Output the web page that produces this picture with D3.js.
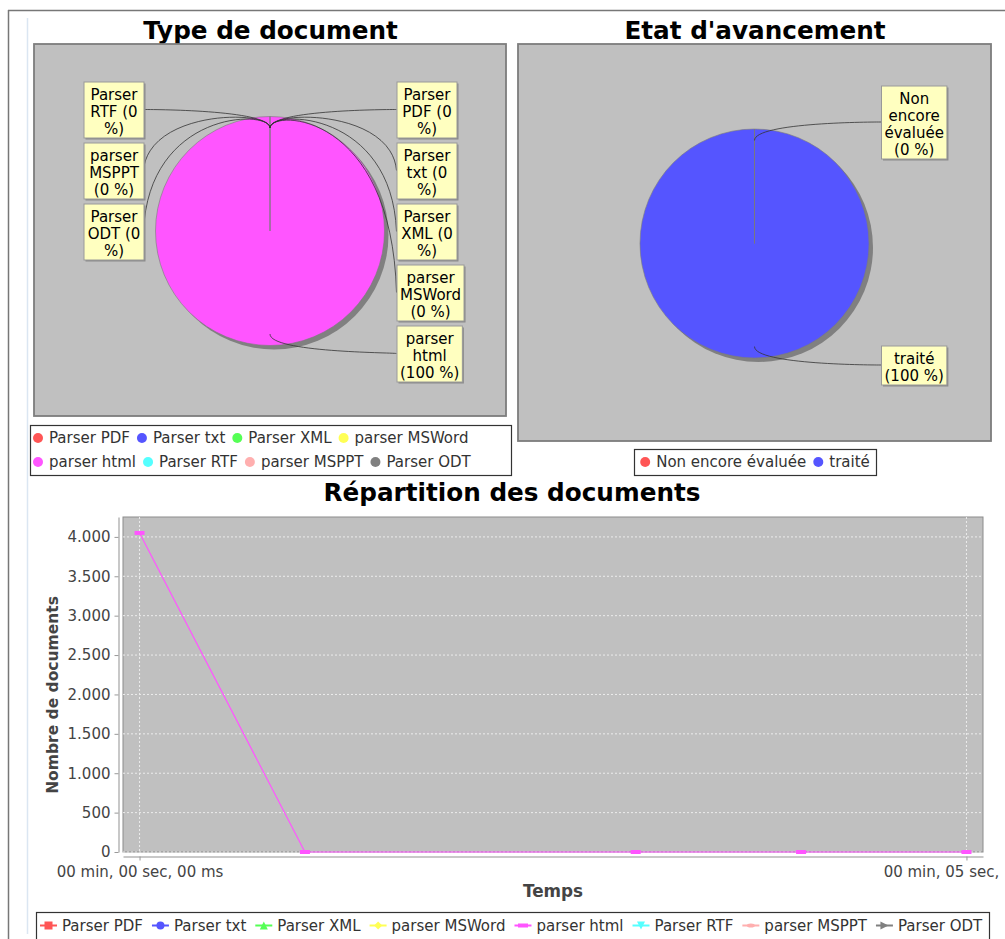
<!DOCTYPE html>
<html>
<head>
<meta charset="utf-8">
<script src="https://cdn.jsdelivr.net/npm/d3@7"></script>
<style>
  body { margin: 0; background: #fff; }
  svg { display: block; font-family: "DejaVu Sans", sans-serif; }
</style>
</head>
<body>
<svg width="1005" height="939"></svg>
<script>
// ---- data ----
var typeNames = ["Parser PDF", "Parser txt", "Parser XML", "parser MSWord", "parser html", "Parser RTF", "parser MSPPT", "Parser ODT"];
var typeValues = [0, 0, 0, 0, 100, 0, 0, 0];
var typeColors = ["#ff5555", "#5555ff", "#55ff55", "#ffff55", "#ff55ff", "#55ffff", "#ffafaf", "#808080"];
var typeShapes = ["square", "circle", "triangleUp", "diamond", "hrect", "triangleDown", "ellipse", "triangleRight"];

var etatNames = ["Non encore évaluée", "traité"];
var etatValues = [0, 100];
var etatColors = ["#ff5555", "#5555ff"];

// time series (seconds), only "parser html" has points
var htmlTimes = [0, 1, 3, 4, 5];
var htmlCounts = [4050, 0, 0, 0, 0];
var yTicks = [0, 500, 1000, 1500, 2000, 2500, 3000, 3500, 4000];
var xTicks = [0, 5];

var svg = d3.select("svg");

// page frame
svg.append("line").attr("x1", 8.5).attr("y1", 10).attr("x2", 8.5).attr("y2", 939).attr("stroke", "#777").attr("stroke-width", 1.5);
svg.append("line").attr("x1", 8).attr("y1", 10.5).attr("x2", 1005).attr("y2", 10.5).attr("stroke", "#777").attr("stroke-width", 1.5);
svg.append("line").attr("x1", 27.5).attr("y1", 18).attr("x2", 27.5).attr("y2", 934).attr("stroke", "#dbe6f2").attr("stroke-width", 1.5);

// text measuring helper
var meas = svg.append("text").attr("x", -1000).attr("y", -1000).style("font-size", "15px");
function textW(s, size) {
  meas.style("font-size", (size || 15) + "px").text(s);
  return meas.node().getComputedTextLength();
}
function wrap(s, maxW) {
  var words = s.split(" "), lines = [], cur = "";
  words.forEach(function(w) {
    var t = cur ? cur + " " + w : w;
    if (cur && textW(t) > maxW) { lines.push(cur); cur = w; }
    else cur = t;
  });
  if (cur) lines.push(cur);
  return lines;
}

function title(text, x, y) {
  svg.append("text").attr("x", x).attr("y", y).attr("text-anchor", "middle")
    .style("font-size", "24.7px").style("font-weight", "bold").text(text);
}

// ---- pie charts ----
function drawPie(opt) {
  var names = opt.names, values = opt.values, colors = opt.colors;
  svg.append("rect").attr("x", opt.x0).attr("y", opt.y0)
    .attr("width", opt.x1 - opt.x0).attr("height", opt.y1 - opt.y0)
    .attr("fill", "#c0c0c0").attr("stroke", "#7d7d7d").attr("stroke-width", 1.8);

  var cx = (opt.x0 + opt.x1) / 2, cy = (opt.y0 + opt.y1) / 2 + 1, r = 114.5;
  var linkR = r + 7, gap = 5;
  var total = d3.sum(values);
  var data = names.map(function(n, i) { return { name: n, value: values[i], color: colors[i] }; });
  var arcs = d3.pie().sort(null).value(function(d) { return d.value; })(data);
  var arc = d3.arc().innerRadius(0).outerRadius(r);
  var g = svg.append("g").attr("transform", "translate(" + cx + "," + cy + ")");
  var shown = arcs.filter(function(d) { return d.value > 0; });

  g.selectAll("path.shadow").data(shown).enter().append("path")
    .attr("class", "shadow").attr("d", arc).attr("transform", "translate(4,4)").attr("fill", "#808080");
  g.selectAll("path.slice").data(shown).enter().append("path")
    .attr("class", "slice").attr("d", arc)
    .attr("fill", function(d) { return d.data.color; })
    .attr("stroke", "#7a7a7a").attr("stroke-width", 0.6);
  shown.forEach(function(d) {
    [d.startAngle, d.endAngle].forEach(function(a) {
      g.append("line").attr("x1", 0).attr("y1", 0)
        .attr("x2", r * Math.sin(a)).attr("y2", -r * Math.cos(a))
        .attr("stroke", "#7a7a7a").attr("stroke-width", 0.8);
    });
  });

  // labels
  var recs = arcs.map(function(d) {
    var mid = (d.startAngle + d.endAngle) / 2;
    var pct = total ? Math.round(d.value / total * 100) : 0;
    var lines = wrap(d.data.name + " (" + pct + " %)", 65);
    var w = Math.max(60, d3.max(lines, function(l) { return textW(l); }) + 6);
    return {
      mid: mid, side: mid > Math.PI + 1e-6 ? -1 : 1, lines: lines, w: w,
      h: lines.length * 17 + 5, want: cy - linkR * Math.cos(mid)
    };
  });
  [-1, 1].forEach(function(side) {
    var list = recs.filter(function(o) { return o.side === side; });
    list.sort(function(a, b) { return a.want - b.want; });
    var bottom = -Infinity;
    list.forEach(function(o) {
      o.top = Math.max(o.want - o.h / 2, bottom + 5);
      bottom = o.top + o.h;
    });
  });
  recs.forEach(function(o) {
    var anchorX = cx + o.side * linkR;
    var edgeX = anchorX + o.side * gap;
    var boxX = o.side > 0 ? edgeX : edgeX - o.w;
    var ty = o.top + o.h / 2;
    var ex = cx + linkR * Math.sin(o.mid), ey = cy - linkR * Math.cos(o.mid);
    var lx = cx + 0.9 * r * Math.sin(o.mid), ly = cy - 0.9 * r * Math.cos(o.mid);
    var p = d3.path();
    p.moveTo(edgeX, ty);
    p.bezierCurveTo(anchorX, ey, ex, ey, lx, ly);
    svg.append("path").attr("d", p.toString()).attr("fill", "none")
      .attr("stroke", "#333").attr("stroke-width", 0.8);
    svg.append("rect").attr("x", boxX + 2).attr("y", o.top + 2).attr("width", o.w).attr("height", o.h)
      .attr("fill", "#8a8a8a");
    svg.append("rect").attr("x", boxX + 0.5).attr("y", o.top + 0.5).attr("width", o.w).attr("height", o.h)
      .attr("fill", "#ffffc0").attr("stroke", "#999").attr("stroke-width", 1);
    var t = svg.append("text").attr("text-anchor", "middle").style("font-size", "15px").attr("fill", "#000");
    o.lines.forEach(function(l, i) {
      t.append("tspan").attr("x", boxX + o.w / 2 + 0.5).attr("y", o.top + 18 + i * 17).text(l);
    });
  });

  // legend
  var L = opt.legend;
  svg.append("rect").attr("x", L.x0 + 0.5).attr("y", L.y0 + 0.5).attr("width", L.x1 - L.x0).attr("height", L.y1 - L.y0)
    .attr("fill", "#fff").attr("stroke", "#333").attr("stroke-width", 1.2);
  var rows = [[]], rowW = [0];
  data.forEach(function(d) {
    var w = 10 + 6 + textW(d.name) + 7;
    if (rowW[rowW.length - 1] + w > L.maxRow && rows[rows.length - 1].length) { rows.push([]); rowW.push(0); }
    rows[rows.length - 1].push({ d: d, w: w });
    rowW[rowW.length - 1] += w;
  });
  rows.forEach(function(row, ri) {
    var x = L.center ? (L.x0 + L.x1) / 2 - (rowW[ri] - 7) / 2 : L.x0 + 3;
    var y = L.rowY[ri];
    row.forEach(function(it) {
      svg.append("circle").attr("cx", x + 5).attr("cy", y).attr("r", 5).attr("fill", it.d.color);
      svg.append("text").attr("x", x + 16).attr("y", y).attr("dy", "0.35em").style("font-size", "15px")
        .attr("fill", "#333").text(it.d.name);
      x += it.w;
    });
  });
}

title("Type de document", 270.5, 38.5);
drawPie({
  x0: 34, y0: 44, x1: 506, y1: 416, names: typeNames, values: typeValues, colors: typeColors,
  legend: { x0: 30, y0: 425, x1: 511, y1: 475, rowY: [438, 462], center: false, maxRow: 475 }
});
title("Etat d'avancement", 755, 38.5);
drawPie({
  x0: 518, y0: 44, x1: 991, y1: 441, names: etatNames, values: etatValues, colors: etatColors,
  legend: { x0: 634, y0: 449, x1: 876, y1: 475, rowY: [462], center: true, maxRow: 1000 }
});

// ---- line chart ----
title("Répartition des documents", 512, 501);

var plot = { left: 123, right: 983, top: 517, bottom: 852 };
var chartRight = 1002;
var clip = svg.append("clipPath").attr("id", "chartclip");
clip.append("rect").attr("x", 0).attr("y", 480).attr("width", chartRight).attr("height", 459);
var lc = svg.append("g").attr("clip-path", "url(#chartclip)");

var tExt = d3.extent(htmlTimes), tPad = (tExt[1] - tExt[0]) * 0.02;
var x = d3.scaleLinear().domain([tExt[0] - tPad, tExt[1] + tPad]).range([plot.left, plot.right]);
var y = d3.scaleLinear().domain([0, d3.max(htmlCounts) * 1.05]).range([plot.bottom, plot.top]);

var fr = d3.formatLocale({ decimal: ",", thousands: ".", grouping: [3], currency: ["", " €"] });
var yFmt = fr.format(",d");
var p2 = d3.format("02d");
function timeFmt(s) {
  var ms = Math.round(s * 1000);
  return p2(Math.floor(ms / 60000)) + " min, " + p2(Math.floor(ms / 1000) % 60) + " sec, " + p2(Math.floor((ms % 1000) / 10)) + " ms";
}

lc.append("rect").attr("x", plot.left).attr("y", plot.top)
  .attr("width", plot.right - plot.left).attr("height", plot.bottom - plot.top)
  .attr("fill", "#c0c0c0").attr("stroke", "#8c8c8c").attr("stroke-width", 1);

lc.selectAll("line.hgrid").data(yTicks).enter().append("line").attr("class", "hgrid")
  .attr("x1", plot.left).attr("x2", plot.right)
  .attr("y1", function(d) { return y(d); }).attr("y2", function(d) { return y(d); })
  .attr("stroke", "#ececec").attr("stroke-width", 1).attr("stroke-dasharray", "2,2");
lc.selectAll("line.vgrid").data(xTicks).enter().append("line").attr("class", "vgrid")
  .attr("y1", plot.top).attr("y2", plot.bottom)
  .attr("x1", function(d) { return x(d); }).attr("x2", function(d) { return x(d); })
  .attr("stroke", "#ececec").attr("stroke-width", 1).attr("stroke-dasharray", "2,2");

var yAxis = lc.append("g").attr("transform", "translate(118.5,0)")
  .call(d3.axisLeft(y).tickValues(yTicks).tickFormat(yFmt).tickSize(4).tickSizeOuter(0).tickPadding(4));
var xAxis = lc.append("g").attr("transform", "translate(0,856.5)")
  .call(d3.axisBottom(x).tickValues(xTicks).tickFormat(timeFmt).tickSize(4).tickSizeOuter(0).tickPadding(6));
[yAxis, xAxis].forEach(function(a) {
  a.select(".domain").attr("stroke", "#c8c8c8").attr("stroke-width", 2);
  a.selectAll(".tick line").attr("stroke", "#999");
  a.selectAll(".tick text").attr("fill", "#444").style("font-size", "15px").style("font-family", "DejaVu Sans, sans-serif");
});
// a tick label running past the chart's right edge is cut at its last fitting word, as the original does
xAxis.selectAll(".tick text").each(function(d) {
  var full = timeFmt(d), w = textW(full), left = x(d) - w / 2;
  if (left + w <= chartRight) return;
  var words = full.split(" "), s = full;
  while (words.length > 1 && left + textW(s) > chartRight) { words.pop(); s = words.join(" "); }
  d3.select(this).attr("text-anchor", "start").attr("x", -w / 2).text(s);
});

lc.append("text").attr("transform", "translate(57.5,695) rotate(-90)").attr("text-anchor", "middle")
  .style("font-size", "15.5px").style("font-weight", "bold").attr("fill", "#444").text("Nombre de documents");
lc.append("text").attr("x", (plot.left + plot.right) / 2).attr("y", 897).attr("text-anchor", "middle")
  .style("font-size", "16.8px").style("font-weight", "bold").attr("fill", "#444").text("Temps");

function shapePath(type, s) {
  var h = s / 2;
  switch (type) {
    case "square": return "M" + -h + "," + -h + "h" + s + "v" + s + "h" + -s + "Z";
    case "circle": return d3.symbol(d3.symbolCircle, Math.PI * h * h)();
    case "triangleUp": return "M0," + -h + "L" + h + "," + h + "L" + -h + "," + h + "Z";
    case "triangleDown": return "M0," + h + "L" + h + "," + -h + "L" + -h + "," + -h + "Z";
    case "triangleRight": return "M" + h + ",0L" + -h + "," + -h + "L" + -h + "," + h + "Z";
    case "diamond": return "M0," + -h + "L" + h + ",0L0," + h + "L" + -h + ",0Z";
    case "hrect": return "M" + -(h + 1) + "," + -h / 2 + "h" + (s + 2) + "v" + h + "h" + -(s + 2) + "Z";
    case "ellipse": return "M" + -h + ",0a" + h + "," + h / 2 + " 0 1,0 " + s + ",0a" + h + "," + h / 2 + " 0 1,0 " + -s + ",0Z";
  }
}

var series = typeNames.map(function(n, i) {
  var pts = n === "parser html" ? htmlTimes.map(function(t, j) { return { t: t, v: htmlCounts[j] }; }) : [];
  return { name: n, color: typeColors[i], shape: typeShapes[i], values: pts };
});
var line = d3.line().x(function(d) { return x(d.t); }).y(function(d) { return y(d.v); });
series.forEach(function(s) {
  if (!s.values.length) return;
  lc.append("path").attr("d", line(s.values)).attr("fill", "none").attr("stroke", s.color).attr("stroke-width", 1.2);
  lc.selectAll(null).data(s.values).enter().append("path")
    .attr("d", shapePath(s.shape, 8))
    .attr("transform", function(d) { return "translate(" + x(d.t) + "," + y(d.v) + ")"; })
    .attr("fill", s.color);
});

// bottom legend
svg.append("rect").attr("x", 36.5).attr("y", 912.5).attr("width", 953).attr("height", 40)
  .attr("fill", "#fff").attr("stroke", "#333").attr("stroke-width", 1.2);
var lx0 = 40, ly = 925.5;
series.forEach(function(s) {
  svg.append("line").attr("x1", lx0).attr("x2", lx0 + 17).attr("y1", ly).attr("y2", ly)
    .attr("stroke", s.color).attr("stroke-width", 2);
  svg.append("path").attr("d", shapePath(s.shape, 8)).attr("transform", "translate(" + (lx0 + 8.5) + "," + ly + ")")
    .attr("fill", s.color);
  svg.append("text").attr("x", lx0 + 22).attr("y", ly).attr("dy", "0.35em").style("font-size", "15px")
    .attr("fill", "#333").text(s.name);
  lx0 += 22 + textW(s.name) + 9;
});
meas.remove();
</script>
</body>
</html>
